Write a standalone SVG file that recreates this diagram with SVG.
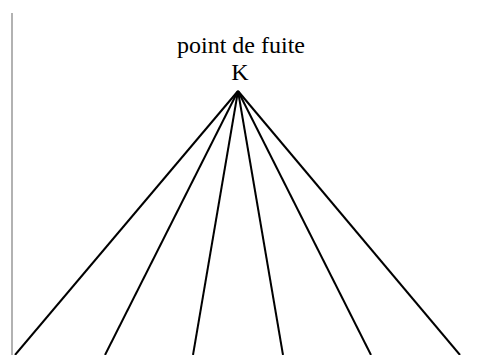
<svg xmlns="http://www.w3.org/2000/svg" width="479" height="355" viewBox="0 0 479 355">
<style>
.ray{stroke:#000;stroke-width:2;fill:none}
.edge{stroke:#999;stroke-width:1.5}
</style>
<rect width="479" height="355" fill="#fff"/>
<line class="edge" x1="12" y1="13" x2="12" y2="355"/>
<g id="K" font-family="Liberation Serif, DejaVu Serif, serif" font-size="24" fill="#000" text-anchor="middle">
<text x="241" y="53">point de fuite</text>
<text x="240" y="80">K</text>
</g>
<g id="connectors">
<line class="ray" x1="238" y1="91" x2="15" y2="355"/>
<line class="ray" x1="238" y1="91" x2="105" y2="355"/>
<line class="ray" x1="238" y1="91" x2="193" y2="355"/>
<line class="ray" x1="238" y1="91" x2="283" y2="355"/>
<line class="ray" x1="238" y1="91" x2="371" y2="355"/>
<line class="ray" x1="238" y1="91" x2="460" y2="355"/>
</g>
</svg>
